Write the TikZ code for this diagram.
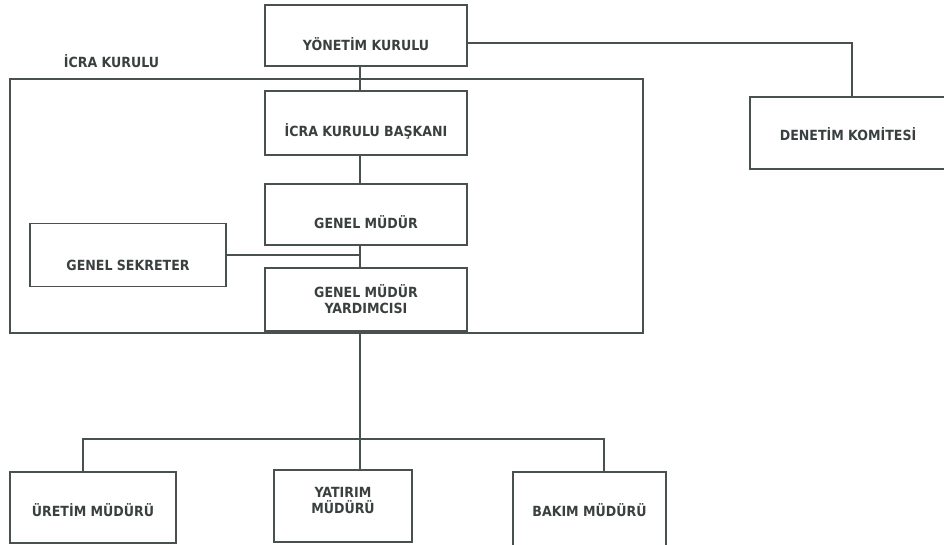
\documentclass[tikz,border=0pt]{standalone}
\usepackage{fontspec}
\setmainfont{DejaVu Sans Condensed}
\usetikzlibrary{positioning}
\definecolor{linegray}{RGB}{72,80,80}
\definecolor{textgray}{RGB}{58,64,64}

\begin{document}
\begin{tikzpicture}[x=1pt, y=-1pt,
box/.style={rectangle, draw=linegray, line width=1.9pt, text=textgray, font=\fontsize{14}{16.5}\selectfont\bfseries, align=center, inner sep=0pt},
textdown/.style={text height=#1, text depth=0pt},
line/.style={draw=linegray, line width=1.9pt}
]
\useasboundingbox (0,0) rectangle (944,544);

% executive board frame
\node[box, minimum width=633pt, minimum height=254pt](icra) at (326.5,206){};
\node[text=textgray, font=\fontsize{14}{16.5}\selectfont\bfseries](icra_label) at (111.5,61){İCRA KURULU};

\node[box, minimum width=202pt, minimum height=61pt, textdown=29pt](yonetim) at (366,35.5){YÖNETİM KURULU};
\node[box, minimum width=202pt, minimum height=64pt, textdown=28pt](baskan)[below=23pt of yonetim]{İCRA KURULU BAŞKANI};
\node[box, minimum width=202pt, minimum height=61pt, textdown=29pt](gm)[below=27pt of baskan]{GENEL MÜDÜR};
\node[box, minimum width=202pt, minimum height=63pt](gmy)[below=21pt of gm]{GENEL MÜDÜR\\YARDIMCISI};
\node[box, minimum width=196pt, minimum height=63pt, textdown=31pt](sekreter) at (128,255){GENEL SEKRETER};
\node[box, minimum width=196pt, minimum height=72pt, textdown=14pt](denetim) at (848,133){DENETİM KOMİTESİ};

% managers
\node[box, minimum width=166pt, minimum height=71pt, textdown=17pt](uretim) at (93,507.5){ÜRETİM MÜDÜRÜ};
\node[box, minimum width=138pt, minimum height=72pt, text depth=11.5pt](yatirim) at (343,506){YATIRIM\\MÜDÜRÜ};
\node[box, minimum width=153pt, minimum height=76pt, textdown=12pt](bakim) at (589.5,510){BAKIM MÜDÜRÜ};

\coordinate (spine) at (360,0);
\draw[line] (yonetim.south -| spine) -- (baskan.north -| spine);
\draw[line] (baskan.south -| spine) -- (gm.north -| spine);
\draw[line] (gm.south -| spine) -- (gmy.north -| spine);
\draw[line] (sekreter.east) -- (sekreter.east -| spine);
\draw[line] (gmy.south -| spine) -- (yatirim.north -| spine);
\draw[line] ([yshift=-7.5pt]yonetim.east) -| ([xshift=4pt]denetim.north);
\draw[line] ([xshift=-10pt]uretim.north) -- ++(0,-32) -| ([xshift=14.5pt]bakim.north);
\end{tikzpicture}
\end{document}
